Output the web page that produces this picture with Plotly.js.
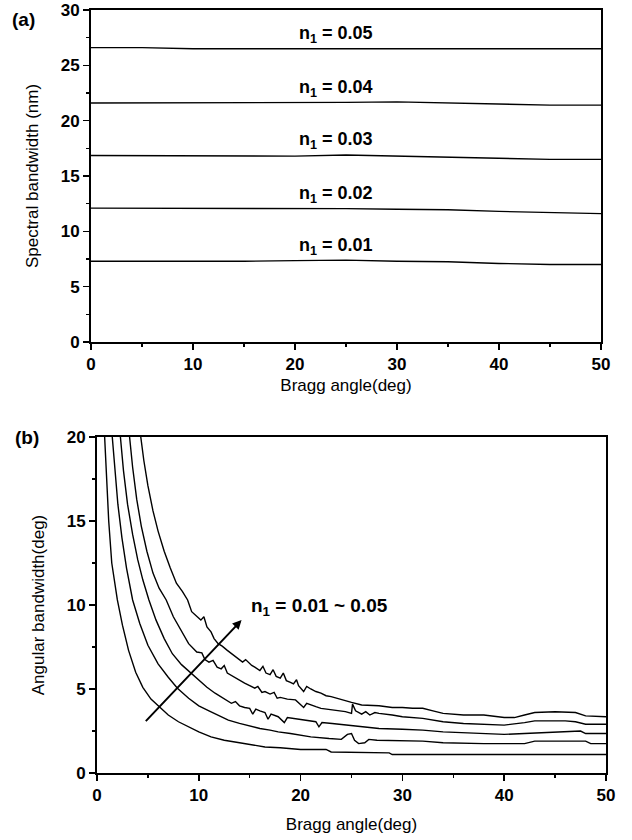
<!DOCTYPE html>
<html>
<head>
<meta charset="utf-8">
<script src="https://cdn.plot.ly/plotly-3.0.1.min.js"></script>
<style>html,body{margin:0;padding:0;background:#fff}#chart{width:632px;height:840px}</style>
</head>
<body>
<div id="chart"></div>
<script>
// ---------- Panel (a): spectral bandwidth ----------
const braggA = [0, 5, 10, 15, 20, 25, 30, 35, 40, 45, 50];
const specN1 = [7.3, 7.3, 7.25, 7.3, 7.35, 7.4, 7.3, 7.25, 7.1, 7.0, 7.0];
const specN2 = [12.1, 12.1, 12.05, 12.1, 12.1, 12.05, 12.0, 11.95, 11.8, 11.7, 11.6];
const specN3 = [16.85, 16.85, 16.8, 16.8, 16.8, 16.9, 16.8, 16.75, 16.65, 16.5, 16.5];
const specN4 = [21.6, 21.6, 21.6, 21.6, 21.6, 21.65, 21.7, 21.6, 21.45, 21.4, 21.4];
const specN5 = [26.6, 26.6, 26.5, 26.5, 26.5, 26.5, 26.5, 26.5, 26.5, 26.5, 26.5];
const n1Labels = ["0.01", "0.02", "0.03", "0.04", "0.05"];

// ---------- Panel (b): angular bandwidth ----------
const angX1 = [0.75,0.95,1.15,1.45,2.0,2.5,3.1,3.8,4.5,5.3,6.1,7,8,9,10,11.2,12.5,14,15,16.5,18,19,20,22.5,23,28.7,29,50];
const angY1 = [20,17.5,15,12.5,10.3,8.8,7.3,6.0,5.1,4.4,3.95,3.45,3.05,2.75,2.45,2.15,1.95,1.8,1.7,1.55,1.5,1.45,1.4,1.4,1.25,1.2,1.1,1.1];

const angX2 = [1.5,1.75,2.05,2.45,2.9,3.5,4.2,5,6,7,7.9,9,10,11,12,12.9,14,15,16,17,17.8,19,20,21,22.8,24,24.6,25,25.3,25.7,26.3,26.7,27.5,30,32,34,38,42,43,48,48.5,50];
const angY2 = [20,18,16,14,12.2,10.3,8.9,7.6,6.5,5.7,5.05,4.45,4.0,3.7,3.4,3.15,2.95,2.8,2.65,2.55,2.45,2.35,2.25,2.15,2.05,2.0,2.3,2.35,1.95,1.75,1.8,2.0,1.95,1.9,1.9,1.8,1.75,1.75,1.9,1.9,1.75,1.75];

const angX3 = [2.3,2.6,3.0,3.5,4.0,4.5,5.1,5.8,6.6,7.4,8.3,9.2,10,10.8,11.6,12.4,13.2,13.6,14,14.5,15,15.3,15.6,16,16.5,16.8,17.1,17.8,18.4,18.7,19.2,19.7,20.3,21.5,21.8,22.1,23.1,24.5,26,27.7,30,32,34,36,38,40,42,44,46,47.5,48,50];
const angY3 = [20,18,16,14.2,12.7,11.5,10.3,9.1,8.0,7.1,6.45,5.95,5.5,5.1,4.75,4.45,4.15,4.25,4.0,3.9,3.85,3.5,3.8,3.7,3.6,3.2,3.5,3.35,3.0,3.3,3.25,3.2,3.15,3.05,2.75,3.0,2.95,2.85,2.75,2.65,2.6,2.55,2.45,2.4,2.35,2.3,2.35,2.4,2.45,2.5,2.35,2.35];

const angX4 = [3.2,3.5,3.9,4.35,4.9,5.5,6.1,6.8,7.5,8.3,9.0,9.8,10.3,10.6,11,11.4,11.8,12.2,12.5,12.8,13.2,13.6,14,14.5,15,15.5,15.8,16.2,16.5,17,17.4,17.7,18,18.7,19.5,20.3,20.6,21,21.5,22,22.7,23.5,24.4,25,25.1,25.4,26,26.4,26.8,27.3,27.7,29,30,32,34,36,38,40,42,43,46,47,48,50];
const angY4 = [20,18.2,16.3,14.7,13.2,11.9,11.0,10.3,9.3,8.4,7.7,7.2,7.15,6.75,6.6,6.7,6.3,6.2,6.4,5.95,5.8,5.7,5.5,5.35,5.2,5.05,5.15,4.8,4.85,4.7,4.8,4.45,4.5,4.4,4.35,3.9,4.15,4.05,3.95,3.85,3.8,3.7,3.65,3.55,4.1,3.7,3.5,3.65,3.45,3.6,3.55,3.45,3.35,3.25,3.05,2.95,2.9,2.85,3.0,3.1,3.1,3.05,2.9,2.9];

const angX5 = [4.3,4.6,5,5.5,6,6.6,7.2,7.8,8.4,8.9,9.3,9.8,10.2,10.5,10.8,11.2,11.5,11.9,12.3,12.8,13.3,13.8,14.3,14.6,15.2,15.5,16,16.3,16.6,17,17.3,17.6,18,18.3,18.6,19,19.3,19.6,19.8,20.3,20.6,21,21.5,22,22.5,23,23.8,24.4,25,26,27.7,29,30,31,32,33,34,36,38,40,41,42,43,45,47,48,50];
const angY5 = [20,18.6,17.1,15.6,14.4,13.2,12.2,11.3,10.8,10.3,9.6,9.3,9.1,9.3,8.7,8.4,8.0,7.7,7.55,7.3,7.05,6.85,6.6,6.75,6.4,6.3,6.1,6.35,5.95,5.85,6.15,5.75,5.65,5.95,5.5,5.4,5.3,5.55,5.2,4.85,5.15,5.0,4.85,4.75,4.6,4.55,4.4,4.3,4.2,4.05,4.0,3.9,3.9,3.85,3.85,3.7,3.55,3.45,3.45,3.3,3.3,3.45,3.6,3.65,3.6,3.4,3.35];

const specSeries = [specN1, specN2, specN3, specN4, specN5];
const angSeries = [[angX1, angY1], [angX2, angY2], [angX3, angY3], [angX4, angY4], [angX5, angY5]];

const FONT = "Liberation Sans, Arial, Helvetica, sans-serif";
const lineStyle = {color: "#000", width: 1.4};

const traces = [];
specSeries.forEach((ys, i) => {
  traces.push({x: braggA, y: ys, type: "scatter", mode: "lines", line: lineStyle,
    xaxis: "x", yaxis: "y", name: "n1 = " + n1Labels[i], hoverinfo: "x+y"});
});
angSeries.forEach((s, i) => {
  traces.push({x: s[0], y: s[1], type: "scatter", mode: "lines", line: lineStyle,
    xaxis: "x2", yaxis: "y2", name: "n1 = " + n1Labels[i], hoverinfo: "x+y"});
});

const tickFont = {family: FONT, size: 17, color: "#000", weight: "bold"};
const titleFont = {family: FONT, size: 17, color: "#000"};

function axisCommon(extra) {
  return Object.assign({
    showline: true, linecolor: "#000", linewidth: 2, mirror: true,
    ticks: "outside", ticklen: 6, tickwidth: 1.5, tickcolor: "#000",
    showgrid: false, zeroline: false, tickfont: tickFont,
    ticklabeloverflow: "allow", fixedrange: true
  }, extra);
}

const annotations = [];
specSeries.forEach((ys, i) => {
  annotations.push({
    xref: "x", yref: "y", x: 24, y: ys[5], yshift: 14,
    text: "n<sub>1</sub> = " + n1Labels[i], showarrow: false,
    font: {family: FONT, size: 18, color: "#000", weight: "bold"},
    xanchor: "center", yanchor: "middle"
  });
});
annotations.push({
  xref: "x2", yref: "y2", axref: "x2", ayref: "y2",
  x: 14.2, y: 9.1, ax: 4.5, ay: 2.9,
  showarrow: true, arrowhead: 2, arrowsize: 0.9, arrowwidth: 2, arrowcolor: "#000", text: " "
});
annotations.push({
  xref: "x2", yref: "y2", x: 14.9, y: 9.9,
  text: "n<sub>1</sub> = 0.01 ~ 0.05", showarrow: false,
  font: {family: FONT, size: 19, color: "#000", weight: "bold"},
  xanchor: "left", yanchor: "middle"
});
annotations.push({xref: "paper", yref: "paper", x: 10/632, y: 1 - 19/840, text: "(a)",
  showarrow: false, xanchor: "left", yanchor: "middle",
  font: {family: FONT, size: 19, color: "#000", weight: "bold"}});
annotations.push({xref: "paper", yref: "paper", x: 13/632, y: 1 - 437/840, text: "(b)",
  showarrow: false, xanchor: "left", yanchor: "middle",
  font: {family: FONT, size: 19, color: "#000", weight: "bold"}});

const layout = {
  width: 632, height: 840,
  margin: {l: 0, r: 0, t: 0, b: 0},
  paper_bgcolor: "#fff", plot_bgcolor: "#fff",
  showlegend: false,
  xaxis: axisCommon({domain: [91/632, 601/632], anchor: "y", range: [0, 50],
    tickvals: [0, 10, 20, 30, 40, 50], minor: {dtick: 5, ticks: "outside", ticklen: 3, tickcolor: "#000"},
    title: {text: "Bragg angle(deg)", font: titleFont, standoff: 6}}),
  yaxis: axisCommon({domain: [1 - 342/840, 1 - 10/840], anchor: "x", range: [0, 30],
    tickvals: [0, 5, 10, 15, 20, 25, 30], minor: {dtick: 2.5, ticks: "outside", ticklen: 3, tickcolor: "#000"},
    title: {text: "Spectral bandwidth (nm)", font: titleFont, standoff: 18}}),
  xaxis2: axisCommon({domain: [97/632, 606/632], anchor: "y2", range: [0, 50],
    tickvals: [0, 10, 20, 30, 40, 50], minor: {dtick: 5, ticks: "outside", ticklen: 3, tickcolor: "#000"},
    title: {text: "Bragg angle(deg)", font: titleFont, standoff: 14}}),
  yaxis2: axisCommon({domain: [1 - 773/840, 1 - 437/840], anchor: "x2", range: [0, 20],
    tickvals: [0, 5, 10, 15, 20], minor: {dtick: 2.5, ticks: "outside", ticklen: 3, tickcolor: "#000"},
    title: {text: "Angular bandwidth(deg)", font: titleFont, standoff: 18}}),
  annotations: annotations
};

Plotly.newPlot("chart", traces, layout, {displayModeBar: false, staticPlot: true});
</script>
</body>
</html>
